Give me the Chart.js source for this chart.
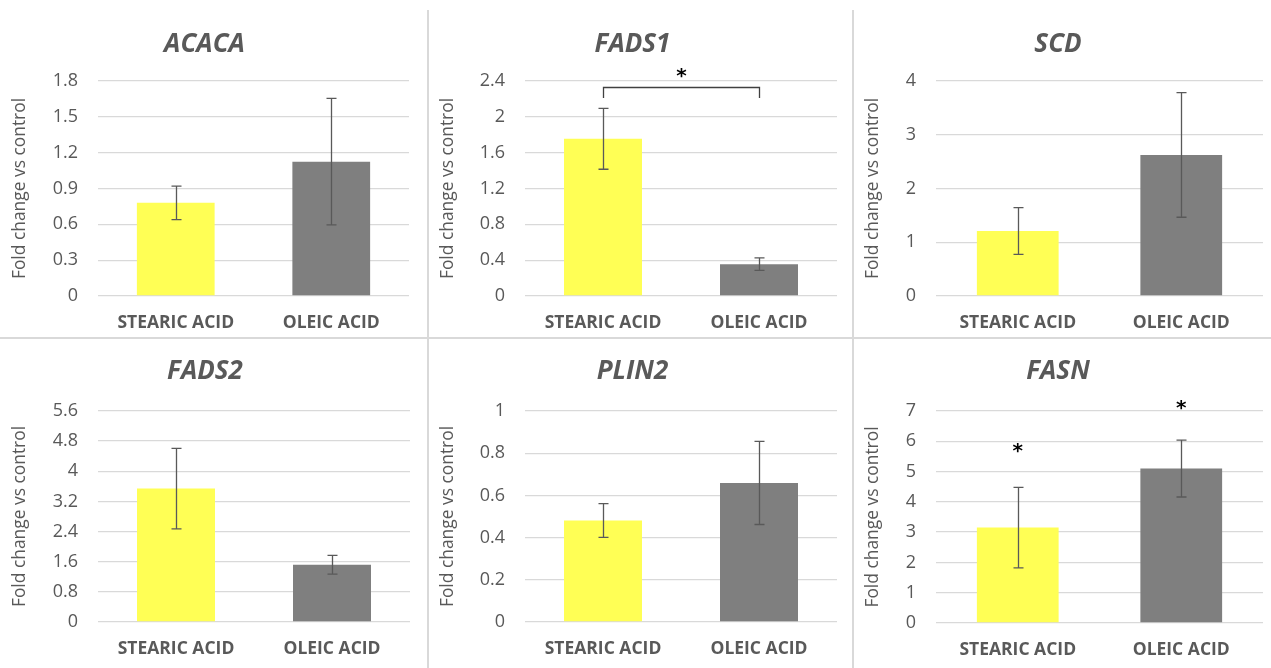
<!DOCTYPE html>
<html>
<head>
<meta charset="utf-8">
<script src="https://cdn.jsdelivr.net/npm/chart.js@4.4.1/dist/chart.umd.min.js"></script>
<style>
  html, body { margin: 0; padding: 0; background: #ffffff; }
  #wrap { position: relative; width: 1271px; height: 668px; overflow: hidden; background: #fff; }
  .panel { position: absolute; }
  .sep { position: absolute; background: #d9d9d9; }
</style>
</head>
<body>
<div id="wrap">
  <div class="sep" style="left:427px; top:10px; width:2px; height:658px;"></div>
  <div class="sep" style="left:852px; top:10px; width:2px; height:658px;"></div>
  <div class="sep" style="left:0px; top:337px; width:1271px; height:2px;"></div>
</div>
<script>
// ---------- data ----------
const categories = ['STEARIC ACID', 'OLEIC ACID'];
const genes = ['ACACA', 'FADS1', 'SCD', 'FADS2', 'PLIN2', 'FASN'];

const acacaMean = [0.78, 1.125];
const acacaErr  = [0.14, 0.53];
const fads1Mean = [1.755, 0.355];
const fads1Err  = [0.34, 0.07];
const scdMean   = [1.21, 2.625];
const scdErr    = [0.435, 1.16];
const fads2Mean = [3.54, 1.52];
const fads2Err  = [1.07, 0.25];
const plin2Mean = [0.481, 0.659];
const plin2Err  = [0.08, 0.197];
const fasnMean  = [3.15, 5.1];
const fasnErr   = [1.33, 0.94];

const acacaTicks = ['0', '0.3', '0.6', '0.9', '1.2', '1.5', '1.8'];
const fads1Ticks = ['0', '0.4', '0.8', '1.2', '1.6', '2', '2.4'];
const scdTicks   = ['0', '1', '2', '3', '4'];
const fads2Ticks = ['0', '0.8', '1.6', '2.4', '3.2', '4', '4.8', '5.6'];
const plin2Ticks = ['0', '0.2', '0.4', '0.6', '0.8', '1'];
const fasnTicks  = ['0', '1', '2', '3', '4', '5', '6', '7'];

// significance annotations (data units)
const fads1Bracket = [2.21, 2.33];   // leg bottom, bracket top
const fads1Star    = [2.49];
const fasnStars    = [5.77, 7.2];

const barColors = ['#FFFF55', '#7F7F7F'];
const yTitle = 'Fold change vs control';

// ---------- plugins ----------
const errorBars = {
  id: 'errorBars',
  afterDatasetsDraw(chart, args, opts) {
    const ctx = chart.ctx;
    const ys = chart.scales.y;
    const meta = chart.getDatasetMeta(0);
    const means = chart.data.datasets[0].data;
    const errs = opts.errors || [];
    ctx.save();
    ctx.strokeStyle = '#595959';
    ctx.lineWidth = 1.3;
    meta.data.forEach((bar, i) => {
      const e = errs[i];
      if (e == null) return;
      const x = Math.round(bar.x) + 0.5;
      const yt = ys.getPixelForValue(means[i] + e);
      const yb = ys.getPixelForValue(means[i] - e);
      ctx.beginPath();
      ctx.moveTo(x, yt); ctx.lineTo(x, yb);
      ctx.moveTo(x - 5, yt); ctx.lineTo(x + 5, yt);
      ctx.moveTo(x - 5, yb); ctx.lineTo(x + 5, yb);
      ctx.stroke();
    });
    ctx.restore();
  }
};

const signif = {
  id: 'signif',
  afterDraw(chart, args, opts) {
    const ctx = chart.ctx;
    const ys = chart.scales.y;
    const meta = chart.getDatasetMeta(0);
    ctx.save();
    ctx.fillStyle = '#000';
    ctx.font = 'bold 20px "DejaVu Sans"';
    ctx.textAlign = 'center';
    ctx.textBaseline = 'middle';
    if (opts.bracket) {
      const [lo, hi] = opts.bracket;
      const x0 = Math.round(meta.data[0].x) + 0.5, x1 = Math.round(meta.data[1].x) + 0.5;
      const yh = Math.round(ys.getPixelForValue(hi)) + 0.5, yl = ys.getPixelForValue(lo);
      ctx.strokeStyle = '#404040';
      ctx.lineWidth = 1.3;
      ctx.beginPath();
      ctx.moveTo(x0, yl); ctx.lineTo(x0, yh); ctx.lineTo(x1, yh); ctx.lineTo(x1, yl);
      ctx.stroke();
      (opts.bracketStar || []).forEach(v => {
        ctx.fillText('*', (x0 + x1) / 2, ys.getPixelForValue(v) + 4);
      });
    }
    if (opts.stars) {
      opts.stars.forEach((v, i) => {
        if (v == null) return;
        ctx.fillText('*', meta.data[i].x, ys.getPixelForValue(v) + 4);
      });
    }
    ctx.restore();
  }
};

// ---------- panels ----------
function makePanel(cfg) {
  const div = document.createElement('div');
  div.className = 'panel';
  div.style.left = cfg.left + 'px';
  div.style.top = cfg.top + 'px';
  div.style.width = cfg.w + 'px';
  div.style.height = cfg.h + 'px';
  const cv = document.createElement('canvas');
  cv.width = cfg.w; cv.height = cfg.h;
  div.appendChild(cv);
  document.getElementById('wrap').appendChild(div);

  new Chart(cv, {
    type: 'bar',
    data: {
      labels: categories,
      datasets: [{
        data: cfg.mean,
        backgroundColor: barColors,
        borderWidth: 0,
        barPercentage: 0.5,
        categoryPercentage: 1.0
      }]
    },
    options: {
      responsive: false,
      animation: false,
      events: [],
      layout: { padding: { left: 0, right: cfg.padR, top: 0, bottom: 0 } },
      plugins: {
        legend: { display: false },
        tooltip: { enabled: false },
        title: {
          display: true,
          text: cfg.title,
          color: '#595959',
          font: { family: '"Open Sans", sans-serif', size: 26, weight: 'bold', style: 'italic', lineHeight: 1.2 },
          padding: { top: cfg.titleTop, bottom: cfg.titleBottom }
        },
        errorBars: { errors: cfg.err },
        signif: { bracket: cfg.bracket, bracketStar: cfg.bracketStar, stars: cfg.stars }
      },
      scales: {
        x: {
          grid: { display: false, drawTicks: false },
          border: { display: false },
          ticks: {
            color: '#595959',
            padding: 16.5,
            font: { family: '"Open Sans", sans-serif', size: 17.5, weight: 'bold' }
          },
          afterFit(s) { s.height = cfg.xH; }
        },
        y: {
          min: 0,
          max: cfg.max,
          grid: { color: '#d9d9d9', lineWidth: 1.3, drawTicks: false },
          border: { display: false },
          ticks: {
            stepSize: cfg.step,
            color: '#595959',
            padding: 20,
            font: { family: '"Open Sans", sans-serif', size: 18 },
            callback: (v, i) => cfg.ticks[i]
          },
          title: {
            display: true,
            text: yTitle,
            color: '#595959',
            padding: { top: 9.5, bottom: 0 },
            font: { family: '"Open Sans", sans-serif', size: 17.4 }
          },
          afterFit(s) { s.width = cfg.yW; }
        }
      }
    },
    plugins: [errorBars, signif]
  });
}

const topRow = { top: 0, h: 338, titleTop: 29.4, titleBottom: 20.4, xH: 42 };
const botRow = { top: 338, h: 330, titleTop: 18.1, titleBottom: 23.7, xH: 46 };

makePanel(Object.assign({}, topRow, { left: 0,   w: 428, yW: 98, padR: 19, title: genes[0], mean: acacaMean, err: acacaErr, max: 1.8, step: 0.3, ticks: acacaTicks }));
makePanel(Object.assign({}, topRow, { left: 428, w: 425, yW: 97, padR: 16, title: genes[1], mean: fads1Mean, err: fads1Err, max: 2.4, step: 0.4, ticks: fads1Ticks, bracket: fads1Bracket, bracketStar: fads1Star }));
makePanel(Object.assign({}, topRow, { left: 853, w: 418, yW: 83, padR: 8,  title: genes[2], mean: scdMean,   err: scdErr,   max: 4,   step: 1,   ticks: scdTicks }));
makePanel(Object.assign({}, botRow, { left: 0,   w: 428, yW: 98, padR: 18, title: genes[3], mean: fads2Mean, err: fads2Err, max: 5.6, step: 0.8, ticks: fads2Ticks }));
makePanel(Object.assign({}, botRow, { left: 428, w: 425, yW: 97, padR: 16, title: genes[4], mean: plin2Mean, err: plin2Err, max: 1,   step: 0.2, ticks: plin2Ticks }));
makePanel(Object.assign({}, botRow, { left: 853, w: 418, yW: 83, padR: 8,  title: genes[5], mean: fasnMean,  err: fasnErr,  max: 7,   step: 1,   ticks: fasnTicks, stars: fasnStars, xH: 45 }));
</script>
</body>
</html>
